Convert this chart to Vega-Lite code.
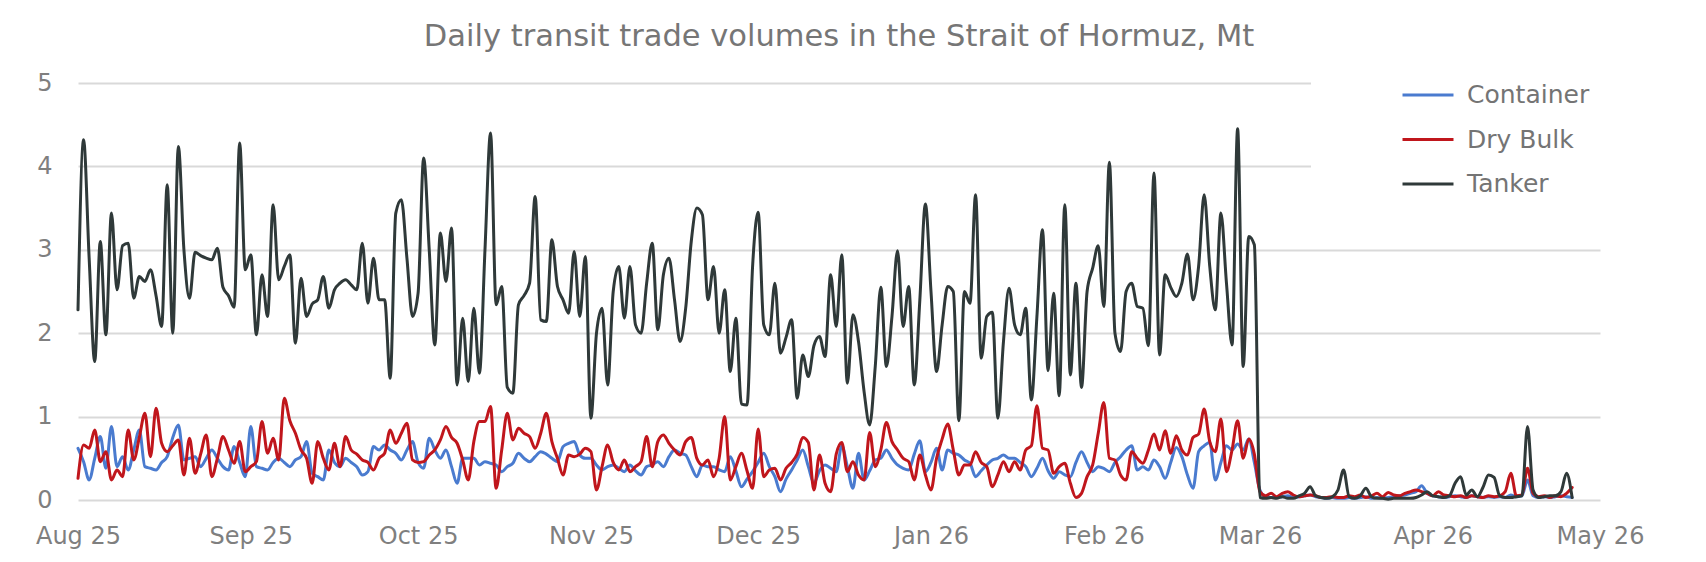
{
"$schema":"https://vega.github.io/schema/vega-lite/v6.json",
"width":1522,"height":417,
"autosize":{"type":"none"},
"padding":{"left":78,"top":83,"right":106,"bottom":62},
"background":"white",
"title":{"text":"Daily transit trade volumes in the Strait of Hormuz, Mt","font":"DejaVu Sans","fontSize":30.5,"fontWeight":"normal","color":"#767676","anchor":"middle","frame":"group","offset":0},
"data":{"values":[
{"d":"2025-08-01","Container":0.62,"Dry Bulk":0.26,"Tanker":2.28},
{"d":"2025-08-02","Container":0.46,"Dry Bulk":0.66,"Tanker":4.32},
{"d":"2025-08-03","Container":0.24,"Dry Bulk":0.62,"Tanker":2.9},
{"d":"2025-08-04","Container":0.5,"Dry Bulk":0.84,"Tanker":1.66},
{"d":"2025-08-05","Container":0.76,"Dry Bulk":0.46,"Tanker":3.1},
{"d":"2025-08-06","Container":0.38,"Dry Bulk":0.58,"Tanker":1.98},
{"d":"2025-08-07","Container":0.88,"Dry Bulk":0.24,"Tanker":3.44},
{"d":"2025-08-08","Container":0.4,"Dry Bulk":0.36,"Tanker":2.52},
{"d":"2025-08-09","Container":0.52,"Dry Bulk":0.28,"Tanker":3.05},
{"d":"2025-08-10","Container":0.36,"Dry Bulk":0.84,"Tanker":3.08},
{"d":"2025-08-11","Container":0.6,"Dry Bulk":0.48,"Tanker":2.42},
{"d":"2025-08-12","Container":0.84,"Dry Bulk":0.75,"Tanker":2.68},
{"d":"2025-08-13","Container":0.4,"Dry Bulk":1.04,"Tanker":2.62},
{"d":"2025-08-14","Container":0.38,"Dry Bulk":0.52,"Tanker":2.76},
{"d":"2025-08-15","Container":0.36,"Dry Bulk":1.1,"Tanker":2.45},
{"d":"2025-08-16","Container":0.45,"Dry Bulk":0.68,"Tanker":2.08},
{"d":"2025-08-17","Container":0.52,"Dry Bulk":0.58,"Tanker":3.78},
{"d":"2025-08-18","Container":0.75,"Dry Bulk":0.65,"Tanker":2.0},
{"d":"2025-08-19","Container":0.9,"Dry Bulk":0.72,"Tanker":4.24},
{"d":"2025-08-20","Container":0.48,"Dry Bulk":0.3,"Tanker":3.0},
{"d":"2025-08-21","Container":0.5,"Dry Bulk":0.74,"Tanker":2.42},
{"d":"2025-08-22","Container":0.52,"Dry Bulk":0.32,"Tanker":2.97},
{"d":"2025-08-23","Container":0.4,"Dry Bulk":0.55,"Tanker":2.93},
{"d":"2025-08-24","Container":0.5,"Dry Bulk":0.78,"Tanker":2.9},
{"d":"2025-08-25","Container":0.6,"Dry Bulk":0.28,"Tanker":2.88},
{"d":"2025-08-26","Container":0.5,"Dry Bulk":0.5,"Tanker":3.02},
{"d":"2025-08-27","Container":0.4,"Dry Bulk":0.76,"Tanker":2.55},
{"d":"2025-08-28","Container":0.36,"Dry Bulk":0.6,"Tanker":2.45},
{"d":"2025-08-29","Container":0.64,"Dry Bulk":0.44,"Tanker":2.31},
{"d":"2025-08-30","Container":0.45,"Dry Bulk":0.7,"Tanker":4.28},
{"d":"2025-08-31","Container":0.28,"Dry Bulk":0.34,"Tanker":2.76},
{"d":"2025-09-01","Container":0.88,"Dry Bulk":0.4,"Tanker":2.94},
{"d":"2025-09-02","Container":0.4,"Dry Bulk":0.46,"Tanker":1.98},
{"d":"2025-09-03","Container":0.38,"Dry Bulk":0.94,"Tanker":2.7},
{"d":"2025-09-04","Container":0.36,"Dry Bulk":0.56,"Tanker":2.2},
{"d":"2025-09-05","Container":0.45,"Dry Bulk":0.74,"Tanker":3.54},
{"d":"2025-09-06","Container":0.5,"Dry Bulk":0.48,"Tanker":2.64},
{"d":"2025-09-07","Container":0.45,"Dry Bulk":1.22,"Tanker":2.8},
{"d":"2025-09-08","Container":0.4,"Dry Bulk":0.95,"Tanker":2.94},
{"d":"2025-09-09","Container":0.48,"Dry Bulk":0.8,"Tanker":1.88},
{"d":"2025-09-10","Container":0.52,"Dry Bulk":0.6,"Tanker":2.66},
{"d":"2025-09-11","Container":0.7,"Dry Bulk":0.5,"Tanker":2.2},
{"d":"2025-09-12","Container":0.32,"Dry Bulk":0.2,"Tanker":2.35},
{"d":"2025-09-13","Container":0.28,"Dry Bulk":0.7,"Tanker":2.4},
{"d":"2025-09-14","Container":0.24,"Dry Bulk":0.5,"Tanker":2.68},
{"d":"2025-09-15","Container":0.6,"Dry Bulk":0.36,"Tanker":2.3},
{"d":"2025-09-16","Container":0.45,"Dry Bulk":0.68,"Tanker":2.52},
{"d":"2025-09-17","Container":0.4,"Dry Bulk":0.4,"Tanker":2.6},
{"d":"2025-09-18","Container":0.5,"Dry Bulk":0.76,"Tanker":2.64},
{"d":"2025-09-19","Container":0.45,"Dry Bulk":0.6,"Tanker":2.58},
{"d":"2025-09-20","Container":0.4,"Dry Bulk":0.55,"Tanker":2.52},
{"d":"2025-09-21","Container":0.3,"Dry Bulk":0.48,"Tanker":3.08},
{"d":"2025-09-22","Container":0.34,"Dry Bulk":0.45,"Tanker":2.36},
{"d":"2025-09-23","Container":0.64,"Dry Bulk":0.36,"Tanker":2.9},
{"d":"2025-09-24","Container":0.6,"Dry Bulk":0.5,"Tanker":2.4},
{"d":"2025-09-25","Container":0.66,"Dry Bulk":0.56,"Tanker":2.4},
{"d":"2025-09-26","Container":0.6,"Dry Bulk":0.84,"Tanker":1.46},
{"d":"2025-09-27","Container":0.56,"Dry Bulk":0.68,"Tanker":3.44},
{"d":"2025-09-28","Container":0.48,"Dry Bulk":0.8,"Tanker":3.6},
{"d":"2025-09-29","Container":0.6,"Dry Bulk":0.92,"Tanker":2.9},
{"d":"2025-09-30","Container":0.7,"Dry Bulk":0.48,"Tanker":2.2},
{"d":"2025-10-01","Container":0.45,"Dry Bulk":0.45,"Tanker":2.48},
{"d":"2025-10-02","Container":0.38,"Dry Bulk":0.46,"Tanker":4.1},
{"d":"2025-10-03","Container":0.74,"Dry Bulk":0.54,"Tanker":3.0},
{"d":"2025-10-04","Container":0.6,"Dry Bulk":0.6,"Tanker":1.86},
{"d":"2025-10-05","Container":0.5,"Dry Bulk":0.72,"Tanker":3.2},
{"d":"2025-10-06","Container":0.6,"Dry Bulk":0.88,"Tanker":2.62},
{"d":"2025-10-07","Container":0.4,"Dry Bulk":0.75,"Tanker":3.26},
{"d":"2025-10-08","Container":0.2,"Dry Bulk":0.68,"Tanker":1.38},
{"d":"2025-10-09","Container":0.5,"Dry Bulk":0.48,"Tanker":2.18},
{"d":"2025-10-10","Container":0.5,"Dry Bulk":0.24,"Tanker":1.42},
{"d":"2025-10-11","Container":0.5,"Dry Bulk":0.7,"Tanker":2.3},
{"d":"2025-10-12","Container":0.42,"Dry Bulk":0.94,"Tanker":1.52},
{"d":"2025-10-13","Container":0.46,"Dry Bulk":0.94,"Tanker":3.0},
{"d":"2025-10-14","Container":0.44,"Dry Bulk":1.12,"Tanker":4.4},
{"d":"2025-10-15","Container":0.42,"Dry Bulk":0.14,"Tanker":2.34},
{"d":"2025-10-16","Container":0.34,"Dry Bulk":0.6,"Tanker":2.56},
{"d":"2025-10-17","Container":0.4,"Dry Bulk":1.04,"Tanker":1.35},
{"d":"2025-10-18","Container":0.44,"Dry Bulk":0.72,"Tanker":1.28},
{"d":"2025-10-19","Container":0.56,"Dry Bulk":0.86,"Tanker":2.34},
{"d":"2025-10-20","Container":0.5,"Dry Bulk":0.8,"Tanker":2.45},
{"d":"2025-10-21","Container":0.46,"Dry Bulk":0.76,"Tanker":2.6},
{"d":"2025-10-22","Container":0.52,"Dry Bulk":0.62,"Tanker":3.64},
{"d":"2025-10-23","Container":0.58,"Dry Bulk":0.8,"Tanker":2.16},
{"d":"2025-10-24","Container":0.55,"Dry Bulk":1.04,"Tanker":2.14},
{"d":"2025-10-25","Container":0.5,"Dry Bulk":0.7,"Tanker":3.12},
{"d":"2025-10-26","Container":0.46,"Dry Bulk":0.5,"Tanker":2.56},
{"d":"2025-10-27","Container":0.64,"Dry Bulk":0.3,"Tanker":2.4},
{"d":"2025-10-28","Container":0.68,"Dry Bulk":0.54,"Tanker":2.24},
{"d":"2025-10-29","Container":0.7,"Dry Bulk":0.52,"Tanker":2.98},
{"d":"2025-10-30","Container":0.54,"Dry Bulk":0.55,"Tanker":2.2},
{"d":"2025-10-31","Container":0.5,"Dry Bulk":0.62,"Tanker":2.92},
{"d":"2025-11-01","Container":0.5,"Dry Bulk":0.58,"Tanker":0.98},
{"d":"2025-11-02","Container":0.42,"Dry Bulk":0.12,"Tanker":2.0},
{"d":"2025-11-03","Container":0.36,"Dry Bulk":0.4,"Tanker":2.3},
{"d":"2025-11-04","Container":0.4,"Dry Bulk":0.66,"Tanker":1.38},
{"d":"2025-11-05","Container":0.42,"Dry Bulk":0.45,"Tanker":2.5},
{"d":"2025-11-06","Container":0.38,"Dry Bulk":0.36,"Tanker":2.8},
{"d":"2025-11-07","Container":0.34,"Dry Bulk":0.48,"Tanker":2.18},
{"d":"2025-11-08","Container":0.42,"Dry Bulk":0.34,"Tanker":2.8},
{"d":"2025-11-09","Container":0.35,"Dry Bulk":0.4,"Tanker":2.1},
{"d":"2025-11-10","Container":0.3,"Dry Bulk":0.46,"Tanker":2.0},
{"d":"2025-11-11","Container":0.4,"Dry Bulk":0.76,"Tanker":2.6},
{"d":"2025-11-12","Container":0.42,"Dry Bulk":0.4,"Tanker":3.08},
{"d":"2025-11-13","Container":0.46,"Dry Bulk":0.7,"Tanker":2.04},
{"d":"2025-11-14","Container":0.4,"Dry Bulk":0.78,"Tanker":2.7},
{"d":"2025-11-15","Container":0.52,"Dry Bulk":0.68,"Tanker":2.9},
{"d":"2025-11-16","Container":0.6,"Dry Bulk":0.6,"Tanker":2.4},
{"d":"2025-11-17","Container":0.56,"Dry Bulk":0.54,"Tanker":1.9},
{"d":"2025-11-18","Container":0.54,"Dry Bulk":0.7,"Tanker":2.3},
{"d":"2025-11-19","Container":0.4,"Dry Bulk":0.75,"Tanker":3.1},
{"d":"2025-11-20","Container":0.28,"Dry Bulk":0.5,"Tanker":3.5},
{"d":"2025-11-21","Container":0.42,"Dry Bulk":0.42,"Tanker":3.42},
{"d":"2025-11-22","Container":0.4,"Dry Bulk":0.48,"Tanker":2.4},
{"d":"2025-11-23","Container":0.4,"Dry Bulk":0.28,"Tanker":2.8},
{"d":"2025-11-24","Container":0.36,"Dry Bulk":0.5,"Tanker":2.0},
{"d":"2025-11-25","Container":0.34,"Dry Bulk":1.0,"Tanker":2.52},
{"d":"2025-11-26","Container":0.52,"Dry Bulk":0.24,"Tanker":1.54},
{"d":"2025-11-27","Container":0.35,"Dry Bulk":0.4,"Tanker":2.18},
{"d":"2025-11-28","Container":0.16,"Dry Bulk":0.56,"Tanker":1.15},
{"d":"2025-11-29","Container":0.25,"Dry Bulk":0.35,"Tanker":1.14},
{"d":"2025-11-30","Container":0.34,"Dry Bulk":0.14,"Tanker":2.8},
{"d":"2025-12-01","Container":0.45,"Dry Bulk":0.85,"Tanker":3.45},
{"d":"2025-12-02","Container":0.56,"Dry Bulk":0.28,"Tanker":2.1},
{"d":"2025-12-03","Container":0.4,"Dry Bulk":0.36,"Tanker":1.98},
{"d":"2025-12-04","Container":0.28,"Dry Bulk":0.38,"Tanker":2.6},
{"d":"2025-12-05","Container":0.1,"Dry Bulk":0.24,"Tanker":1.76},
{"d":"2025-12-06","Container":0.25,"Dry Bulk":0.38,"Tanker":1.95},
{"d":"2025-12-07","Container":0.36,"Dry Bulk":0.45,"Tanker":2.16},
{"d":"2025-12-08","Container":0.48,"Dry Bulk":0.55,"Tanker":1.22},
{"d":"2025-12-09","Container":0.6,"Dry Bulk":0.75,"Tanker":1.74},
{"d":"2025-12-10","Container":0.4,"Dry Bulk":0.69,"Tanker":1.48},
{"d":"2025-12-11","Container":0.2,"Dry Bulk":0.12,"Tanker":1.85},
{"d":"2025-12-12","Container":0.35,"Dry Bulk":0.54,"Tanker":1.96},
{"d":"2025-12-13","Container":0.42,"Dry Bulk":0.2,"Tanker":1.72},
{"d":"2025-12-14","Container":0.38,"Dry Bulk":0.1,"Tanker":2.7},
{"d":"2025-12-15","Container":0.34,"Dry Bulk":0.55,"Tanker":2.08},
{"d":"2025-12-16","Container":0.65,"Dry Bulk":0.69,"Tanker":2.94},
{"d":"2025-12-17","Container":0.4,"Dry Bulk":0.34,"Tanker":1.4},
{"d":"2025-12-18","Container":0.14,"Dry Bulk":0.46,"Tanker":2.22},
{"d":"2025-12-19","Container":0.56,"Dry Bulk":0.3,"Tanker":1.9},
{"d":"2025-12-20","Container":0.24,"Dry Bulk":0.24,"Tanker":1.3},
{"d":"2025-12-21","Container":0.35,"Dry Bulk":0.81,"Tanker":0.9},
{"d":"2025-12-22","Container":0.48,"Dry Bulk":0.4,"Tanker":1.6},
{"d":"2025-12-23","Container":0.5,"Dry Bulk":0.6,"Tanker":2.55},
{"d":"2025-12-24","Container":0.6,"Dry Bulk":0.93,"Tanker":1.6},
{"d":"2025-12-25","Container":0.5,"Dry Bulk":0.7,"Tanker":2.2},
{"d":"2025-12-26","Container":0.42,"Dry Bulk":0.6,"Tanker":2.99},
{"d":"2025-12-27","Container":0.38,"Dry Bulk":0.5,"Tanker":2.08},
{"d":"2025-12-28","Container":0.36,"Dry Bulk":0.46,"Tanker":2.56},
{"d":"2025-12-29","Container":0.55,"Dry Bulk":0.24,"Tanker":1.38},
{"d":"2025-12-30","Container":0.71,"Dry Bulk":0.54,"Tanker":2.4},
{"d":"2025-12-31","Container":0.34,"Dry Bulk":0.3,"Tanker":3.55},
{"d":"2026-01-01","Container":0.45,"Dry Bulk":0.12,"Tanker":2.5},
{"d":"2026-01-02","Container":0.62,"Dry Bulk":0.5,"Tanker":1.54},
{"d":"2026-01-03","Container":0.36,"Dry Bulk":0.73,"Tanker":2.1},
{"d":"2026-01-04","Container":0.6,"Dry Bulk":0.91,"Tanker":2.56},
{"d":"2026-01-05","Container":0.56,"Dry Bulk":0.6,"Tanker":2.5},
{"d":"2026-01-06","Container":0.54,"Dry Bulk":0.3,"Tanker":0.95},
{"d":"2026-01-07","Container":0.48,"Dry Bulk":0.42,"Tanker":2.5},
{"d":"2026-01-08","Container":0.44,"Dry Bulk":0.42,"Tanker":2.36},
{"d":"2026-01-09","Container":0.28,"Dry Bulk":0.58,"Tanker":3.66},
{"d":"2026-01-10","Container":0.35,"Dry Bulk":0.45,"Tanker":1.7},
{"d":"2026-01-11","Container":0.42,"Dry Bulk":0.4,"Tanker":2.2},
{"d":"2026-01-12","Container":0.48,"Dry Bulk":0.16,"Tanker":2.25},
{"d":"2026-01-13","Container":0.5,"Dry Bulk":0.3,"Tanker":0.98},
{"d":"2026-01-14","Container":0.54,"Dry Bulk":0.46,"Tanker":1.9},
{"d":"2026-01-15","Container":0.5,"Dry Bulk":0.34,"Tanker":2.54},
{"d":"2026-01-16","Container":0.5,"Dry Bulk":0.46,"Tanker":2.1},
{"d":"2026-01-17","Container":0.45,"Dry Bulk":0.36,"Tanker":1.98},
{"d":"2026-01-18","Container":0.4,"Dry Bulk":0.6,"Tanker":2.3},
{"d":"2026-01-19","Container":0.28,"Dry Bulk":0.65,"Tanker":1.2},
{"d":"2026-01-20","Container":0.38,"Dry Bulk":1.13,"Tanker":2.2},
{"d":"2026-01-21","Container":0.5,"Dry Bulk":0.62,"Tanker":3.24},
{"d":"2026-01-22","Container":0.35,"Dry Bulk":0.6,"Tanker":1.55},
{"d":"2026-01-23","Container":0.26,"Dry Bulk":0.32,"Tanker":2.48},
{"d":"2026-01-24","Container":0.34,"Dry Bulk":0.4,"Tanker":1.25},
{"d":"2026-01-25","Container":0.3,"Dry Bulk":0.44,"Tanker":3.54},
{"d":"2026-01-26","Container":0.28,"Dry Bulk":0.2,"Tanker":1.5},
{"d":"2026-01-27","Container":0.45,"Dry Bulk":0.03,"Tanker":2.6},
{"d":"2026-01-28","Container":0.58,"Dry Bulk":0.08,"Tanker":1.35},
{"d":"2026-01-29","Container":0.45,"Dry Bulk":0.28,"Tanker":2.5},
{"d":"2026-01-30","Container":0.34,"Dry Bulk":0.42,"Tanker":2.78},
{"d":"2026-01-31","Container":0.4,"Dry Bulk":0.8,"Tanker":3.05},
{"d":"2026-02-01","Container":0.38,"Dry Bulk":1.17,"Tanker":2.32},
{"d":"2026-02-02","Container":0.34,"Dry Bulk":0.5,"Tanker":4.05},
{"d":"2026-02-03","Container":0.45,"Dry Bulk":0.48,"Tanker":2.0},
{"d":"2026-02-04","Container":0.52,"Dry Bulk":0.3,"Tanker":1.78},
{"d":"2026-02-05","Container":0.6,"Dry Bulk":0.24,"Tanker":2.5},
{"d":"2026-02-06","Container":0.65,"Dry Bulk":0.58,"Tanker":2.6},
{"d":"2026-02-07","Container":0.36,"Dry Bulk":0.5,"Tanker":2.32},
{"d":"2026-02-08","Container":0.4,"Dry Bulk":0.44,"Tanker":2.3},
{"d":"2026-02-09","Container":0.36,"Dry Bulk":0.6,"Tanker":1.85},
{"d":"2026-02-10","Container":0.48,"Dry Bulk":0.79,"Tanker":3.92},
{"d":"2026-02-11","Container":0.4,"Dry Bulk":0.6,"Tanker":1.74},
{"d":"2026-02-12","Container":0.26,"Dry Bulk":0.83,"Tanker":2.7},
{"d":"2026-02-13","Container":0.45,"Dry Bulk":0.56,"Tanker":2.55},
{"d":"2026-02-14","Container":0.63,"Dry Bulk":0.77,"Tanker":2.44},
{"d":"2026-02-15","Container":0.52,"Dry Bulk":0.6,"Tanker":2.6},
{"d":"2026-02-16","Container":0.3,"Dry Bulk":0.54,"Tanker":2.95},
{"d":"2026-02-17","Container":0.14,"Dry Bulk":0.75,"Tanker":2.4},
{"d":"2026-02-18","Container":0.58,"Dry Bulk":0.79,"Tanker":2.8},
{"d":"2026-02-19","Container":0.65,"Dry Bulk":1.09,"Tanker":3.66},
{"d":"2026-02-20","Container":0.69,"Dry Bulk":0.7,"Tanker":2.8},
{"d":"2026-02-21","Container":0.24,"Dry Bulk":0.58,"Tanker":2.28},
{"d":"2026-02-22","Container":0.45,"Dry Bulk":0.97,"Tanker":3.44},
{"d":"2026-02-23","Container":0.65,"Dry Bulk":0.34,"Tanker":2.6},
{"d":"2026-02-24","Container":0.6,"Dry Bulk":0.6,"Tanker":1.86},
{"d":"2026-02-25","Container":0.67,"Dry Bulk":0.95,"Tanker":4.45},
{"d":"2026-02-26","Container":0.6,"Dry Bulk":0.5,"Tanker":1.6},
{"d":"2026-02-27","Container":0.73,"Dry Bulk":0.73,"Tanker":3.16},
{"d":"2026-02-28","Container":0.45,"Dry Bulk":0.55,"Tanker":3.06},
{"d":"2026-03-01","Container":0.12,"Dry Bulk":0.1,"Tanker":0.03},
{"d":"2026-03-02","Container":0.04,"Dry Bulk":0.05,"Tanker":0.02},
{"d":"2026-03-03","Container":0.03,"Dry Bulk":0.08,"Tanker":0.03},
{"d":"2026-03-04","Container":0.03,"Dry Bulk":0.04,"Tanker":0.02},
{"d":"2026-03-05","Container":0.04,"Dry Bulk":0.08,"Tanker":0.04},
{"d":"2026-03-06","Container":0.05,"Dry Bulk":0.1,"Tanker":0.02},
{"d":"2026-03-07","Container":0.03,"Dry Bulk":0.06,"Tanker":0.02},
{"d":"2026-03-08","Container":0.04,"Dry Bulk":0.04,"Tanker":0.05},
{"d":"2026-03-09","Container":0.05,"Dry Bulk":0.05,"Tanker":0.08},
{"d":"2026-03-10","Container":0.06,"Dry Bulk":0.06,"Tanker":0.16},
{"d":"2026-03-11","Container":0.04,"Dry Bulk":0.05,"Tanker":0.05},
{"d":"2026-03-12","Container":0.03,"Dry Bulk":0.03,"Tanker":0.03},
{"d":"2026-03-13","Container":0.02,"Dry Bulk":0.03,"Tanker":0.02},
{"d":"2026-03-14","Container":0.03,"Dry Bulk":0.04,"Tanker":0.04},
{"d":"2026-03-15","Container":0.02,"Dry Bulk":0.03,"Tanker":0.12},
{"d":"2026-03-16","Container":0.02,"Dry Bulk":0.03,"Tanker":0.36},
{"d":"2026-03-17","Container":0.03,"Dry Bulk":0.05,"Tanker":0.04},
{"d":"2026-03-18","Container":0.02,"Dry Bulk":0.04,"Tanker":0.02},
{"d":"2026-03-19","Container":0.03,"Dry Bulk":0.06,"Tanker":0.05},
{"d":"2026-03-20","Container":0.04,"Dry Bulk":0.03,"Tanker":0.14},
{"d":"2026-03-21","Container":0.02,"Dry Bulk":0.05,"Tanker":0.04},
{"d":"2026-03-22","Container":0.03,"Dry Bulk":0.08,"Tanker":0.02},
{"d":"2026-03-23","Container":0.02,"Dry Bulk":0.04,"Tanker":0.02},
{"d":"2026-03-24","Container":0.03,"Dry Bulk":0.09,"Tanker":0.01},
{"d":"2026-03-25","Container":0.04,"Dry Bulk":0.06,"Tanker":0.02},
{"d":"2026-03-26","Container":0.05,"Dry Bulk":0.05,"Tanker":0.02},
{"d":"2026-03-27","Container":0.06,"Dry Bulk":0.08,"Tanker":0.02},
{"d":"2026-03-28","Container":0.08,"Dry Bulk":0.1,"Tanker":0.02},
{"d":"2026-03-29","Container":0.1,"Dry Bulk":0.12,"Tanker":0.03},
{"d":"2026-03-30","Container":0.17,"Dry Bulk":0.1,"Tanker":0.06},
{"d":"2026-03-31","Container":0.08,"Dry Bulk":0.08,"Tanker":0.1},
{"d":"2026-04-01","Container":0.05,"Dry Bulk":0.05,"Tanker":0.05},
{"d":"2026-04-02","Container":0.04,"Dry Bulk":0.1,"Tanker":0.04},
{"d":"2026-04-03","Container":0.03,"Dry Bulk":0.06,"Tanker":0.03},
{"d":"2026-04-04","Container":0.04,"Dry Bulk":0.05,"Tanker":0.05},
{"d":"2026-04-05","Container":0.05,"Dry Bulk":0.04,"Tanker":0.2},
{"d":"2026-04-06","Container":0.04,"Dry Bulk":0.05,"Tanker":0.28},
{"d":"2026-04-07","Container":0.03,"Dry Bulk":0.03,"Tanker":0.06},
{"d":"2026-04-08","Container":0.05,"Dry Bulk":0.05,"Tanker":0.12},
{"d":"2026-04-09","Container":0.04,"Dry Bulk":0.04,"Tanker":0.04},
{"d":"2026-04-10","Container":0.03,"Dry Bulk":0.03,"Tanker":0.15},
{"d":"2026-04-11","Container":0.04,"Dry Bulk":0.05,"Tanker":0.3},
{"d":"2026-04-12","Container":0.03,"Dry Bulk":0.04,"Tanker":0.27},
{"d":"2026-04-13","Container":0.04,"Dry Bulk":0.05,"Tanker":0.05},
{"d":"2026-04-14","Container":0.03,"Dry Bulk":0.1,"Tanker":0.03},
{"d":"2026-04-15","Container":0.06,"Dry Bulk":0.32,"Tanker":0.03},
{"d":"2026-04-16","Container":0.04,"Dry Bulk":0.05,"Tanker":0.04},
{"d":"2026-04-17","Container":0.05,"Dry Bulk":0.06,"Tanker":0.05},
{"d":"2026-04-18","Container":0.24,"Dry Bulk":0.38,"Tanker":0.88},
{"d":"2026-04-19","Container":0.05,"Dry Bulk":0.08,"Tanker":0.12},
{"d":"2026-04-20","Container":0.03,"Dry Bulk":0.04,"Tanker":0.03},
{"d":"2026-04-21","Container":0.04,"Dry Bulk":0.05,"Tanker":0.04},
{"d":"2026-04-22","Container":0.03,"Dry Bulk":0.03,"Tanker":0.05},
{"d":"2026-04-23","Container":0.04,"Dry Bulk":0.05,"Tanker":0.05},
{"d":"2026-04-24","Container":0.05,"Dry Bulk":0.04,"Tanker":0.1},
{"d":"2026-04-25","Container":0.04,"Dry Bulk":0.08,"Tanker":0.32},
{"d":"2026-04-26","Container":0.03,"Dry Bulk":0.15,"Tanker":0.03}
]},
"transform":[{"fold":["Container","Dry Bulk","Tanker"],"as":["series","value"]}],
"mark":{"type":"line","interpolate":"monotone","strokeCap":"round","strokeJoin":"round"},
"encoding":{
"x":{"field":"d","type":"temporal","scale":{"type":"utc","domain":[{"year":2025,"month":8,"date":1,"utc":true},{"year":2026,"month":5,"date":1,"utc":true}]},
"axis":{"title":null,"format":"%b %y","values":[{"year":2025,"month":8,"date":1,"utc":true},{"year":2025,"month":9,"date":1,"utc":true},{"year":2025,"month":10,"date":1,"utc":true},{"year":2025,"month":11,"date":1,"utc":true},{"year":2025,"month":12,"date":1,"utc":true},{"year":2026,"month":1,"date":1,"utc":true},{"year":2026,"month":2,"date":1,"utc":true},{"year":2026,"month":3,"date":1,"utc":true},{"year":2026,"month":4,"date":1,"utc":true},{"year":2026,"month":5,"date":1,"utc":true}],"grid":false,"domain":false,"ticks":false,"labelPadding":24,"labelFontSize":24,"labelColor":"#7f7f7f","labelFont":"DejaVu Sans","labelOverlap":false,"labelBound":false,"labelFlush":false}},
"y":{"field":"value","type":"quantitative","scale":{"domain":[0,5],"nice":false},
"axis":{"title":null,"values":[0,1,2,3,4,5],"grid":true,"gridColor":"#d9d9d9","gridWidth":2,"domain":false,"ticks":false,"labelPadding":26,"labelFontSize":24,"labelColor":"#7f7f7f","labelFont":"DejaVu Sans"}},
"color":{"field":"series","type":"nominal","scale":{"domain":["Container","Dry Bulk","Tanker"],"range":["#4a7bcf","#c0161c","#2f3939"]},
"legend":{"orient":"none","legendX":1233,"legendY":-31,"title":null,"symbolType":"stroke","symbolSize":2600,"symbolStrokeWidth":3,"symbolOffset":74,"labelOffset":12,"labelFontSize":25,"labelColor":"#747474","labelFont":"DejaVu Sans","rowPadding":4.5,"padding":16,"fillColor":"white"}},
"strokeWidth":{"field":"series","type":"nominal","scale":{"domain":["Container","Dry Bulk","Tanker"],"range":[3,3,3.6]},"legend":null}
},
"config":{"view":{"stroke":null}}
}
